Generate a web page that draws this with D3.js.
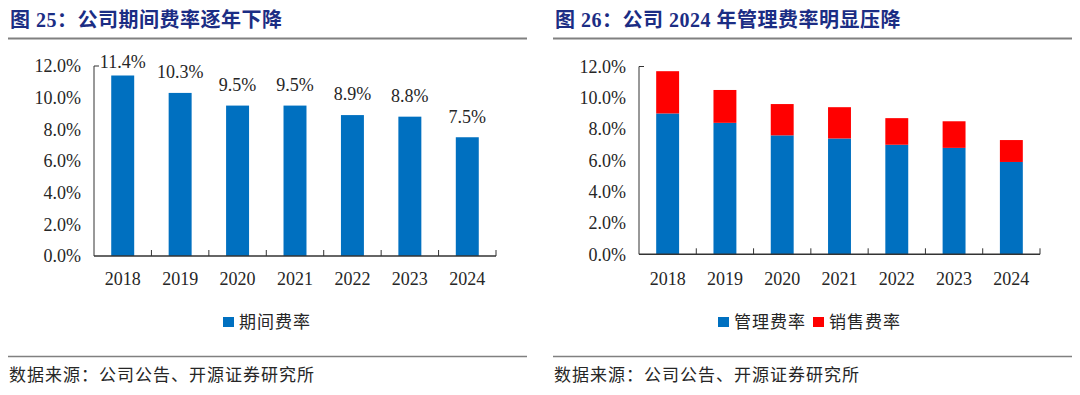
<!DOCTYPE html>
<html>
<head>
<meta charset="utf-8">
<script src="https://cdn.jsdelivr.net/npm/d3@7"></script>
<style>
  body { margin: 0; background: #fff; }
  svg { display: block; }
  .title { font: bold 20px "Liberation Serif", "Noto Sans CJK SC", serif; fill: #1b2d84; letter-spacing: 0.5px; }
  .num { font: 18px "Liberation Serif", serif; fill: #262626; }
  .cjk { font: 17px "Noto Sans CJK SC", sans-serif; fill: #262626; letter-spacing: 1px; }
</style>
</head>
<body>
<div id="chart"></div>
<script>
// data
const years = ["2018", "2019", "2020", "2021", "2022", "2023", "2024"];
const periodRate = [11.4, 10.3, 9.5, 9.5, 8.9, 8.8, 7.5];
const mgmtRate = [9.0, 8.4, 7.6, 7.4, 7.0, 6.8, 5.9];
const salesRate = [2.7, 2.1, 2.0, 2.0, 1.7, 1.7, 1.4];
const yTicks = [0, 2, 4, 6, 8, 10, 12];

const width = 1080, height = 395;
const blue = "#0070c0", red = "#ff0000", axisColor = "#333";

const svg = d3.select("#chart").append("svg")
    .attr("width", width)
    .attr("height", height);

// titles, rules, sources
const panels = [
  {x0: 8, x1: 527, title: "图 25：公司期间费率逐年下降"},
  {x0: 553, x1: 1072, title: "图 26：公司 2024 年管理费率明显压降"}
];
panels.forEach(p => {
  svg.append("text").attr("class", "title")
      .attr("x", p.x0 + 2).attr("y", 27)
      .text(p.title);
  svg.append("line")
      .attr("x1", p.x0).attr("x2", p.x1)
      .attr("y1", 38.5).attr("y2", 38.5)
      .attr("stroke", "#808080").attr("stroke-width", 2);
  svg.append("line")
      .attr("x1", p.x0).attr("x2", p.x1)
      .attr("y1", 356.5).attr("y2", 356.5)
      .attr("stroke", "#808080").attr("stroke-width", 1.5);
  svg.append("text").attr("class", "cjk")
      .attr("x", p.x0 + 1).attr("y", 381)
      .text("数据来源：公司公告、开源证券研究所");
});

// draw axes for one panel
function drawAxes(g, x, y) {
  const [xa, xb] = x.range();
  const y0 = y(0), yTop = y(12);

  g.append("line")
      .attr("x1", xa).attr("x2", xa).attr("y1", yTop).attr("y2", y0)
      .attr("stroke", axisColor);
  g.append("line")
      .attr("x1", xa).attr("x2", xa + 5).attr("y1", yTop).attr("y2", yTop)
      .attr("stroke", axisColor);
  g.append("line")
      .attr("x1", xa).attr("x2", xb).attr("y1", y0).attr("y2", y0)
      .attr("stroke", axisColor).attr("stroke-width", 1.5);

  // ticks between categories (inside), at each band's right edge
  const edge = d => x(d) - x.step() * x.paddingOuter() + x.step();
  g.selectAll(".xt")
    .data(years)
    .join("line")
      .attr("x1", edge)
      .attr("x2", edge)
      .attr("y1", y0).attr("y2", y0 - 6)
      .attr("stroke", axisColor);

  g.selectAll(".yl")
    .data(yTicks)
    .join("text")
      .attr("class", "num")
      .attr("x", xa - 13)
      .attr("y", d => y(d))
      .attr("dy", "0.35em")
      .attr("text-anchor", "end")
      .text(d => d.toFixed(1) + "%");

  g.selectAll(".xl")
    .data(years)
    .join("text")
      .attr("class", "num")
      .attr("x", d => x(d) + x.bandwidth() / 2)
      .attr("y", 279)
      .attr("dy", "0.35em")
      .attr("text-anchor", "middle")
      .text(d => d);
}

// LEFT chart
const xL = d3.scaleBand().domain(years).range([94, 496]).paddingInner(0.6).paddingOuter(0.3);
const yL = d3.scaleLinear().domain([0, 12]).range([256, 66]);
const gL = svg.append("g");

gL.selectAll("rect")
  .data(periodRate)
  .join("rect")
    .attr("x", (d, i) => xL(years[i]))
    .attr("y", d => yL(d))
    .attr("width", xL.bandwidth())
    .attr("height", d => yL(0) - yL(d))
    .attr("fill", blue);

gL.selectAll(".lbl")
  .data(periodRate)
  .join("text")
    .attr("class", "num")
    .attr("x", (d, i) => xL(years[i]) + xL.bandwidth() / 2)
    .attr("y", d => Math.max(yL(d) - 21, yL(12) - 4))
    .attr("dy", "0.35em")
    .attr("text-anchor", "middle")
    .text(d => d.toFixed(1) + "%");

drawAxes(gL, xL, yL);

// RIGHT chart (stacked)
const xR = d3.scaleBand().domain(years).range([639, 1040]).paddingInner(0.6).paddingOuter(0.3);
const yR = d3.scaleLinear().domain([0, 12]).range([254.3, 66.5]);
const gR = svg.append("g");

const table = years.map((yr, i) => ({year: yr, mgmt: mgmtRate[i], sales: salesRate[i]}));
const stack = d3.stack().keys(["mgmt", "sales"])(table);
const colors = {mgmt: blue, sales: red};

gR.selectAll("g.series")
  .data(stack)
  .join("g")
    .attr("fill", d => colors[d.key])
  .selectAll("rect")
  .data(d => d)
  .join("rect")
    .attr("x", d => xR(d.data.year))
    .attr("y", d => yR(d[1]))
    .attr("width", xR.bandwidth())
    .attr("height", d => yR(d[0]) - yR(d[1]));

drawAxes(gR, xR, yR);

// legends
function legend(items, x0) {
  const g = svg.append("g").attr("transform", `translate(${x0},0)`);
  let x = 0;
  items.forEach(it => {
    g.append("rect")
        .attr("x", x).attr("y", 317)
        .attr("width", 11).attr("height", 10)
        .attr("fill", it.color);
    const t = g.append("text").attr("class", "cjk")
        .attr("x", x + 16).attr("y", 322.5)
        .attr("dy", "0.35em")
        .text(it.name);
    x += 16 + t.node().getComputedTextLength() + 7;
  });
}
legend([{name: "期间费率", color: blue}], 223);
legend([{name: "管理费率", color: blue}, {name: "销售费率", color: red}], 718);
</script>
</body>
</html>
